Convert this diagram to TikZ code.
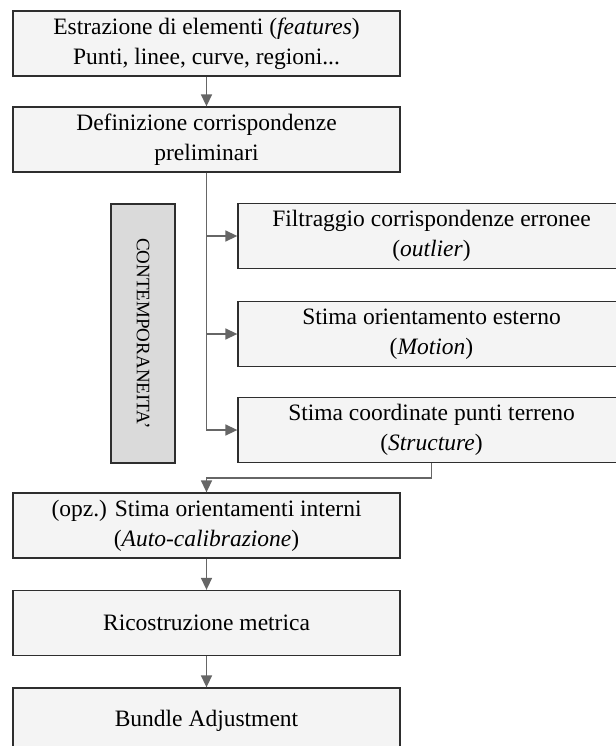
\documentclass[tikz,border=0pt]{standalone}
\usepackage{fontspec}
\setmainfont{Liberation Serif}
\usepackage{xcolor}
\usepackage{tikz}
\usetikzlibrary{arrows.meta}
\usetikzlibrary{calc}

\definecolor{boxfill}{HTML}{F4F4F4}
\definecolor{sidefill}{HTML}{DADADA}
\definecolor{boxline}{HTML}{2E2E2E}
\definecolor{arrowgray}{HTML}{666666}

\begin{document}
\begin{tikzpicture}[x=1pt, y=-1pt,
  step box/.style={draw=boxline, line width=1.3pt, fill=boxfill,
    minimum width=387pt, minimum height=65pt, align=center,
    inner sep=0pt, font=\fontsize{23.5}{30}\selectfont},
  side box/.style={draw=boxline, line width=1.3pt, fill=sidefill,
    minimum width=64pt, minimum height=259pt, inner sep=0pt},
  arr/.style={draw=arrowgray, line width=1.5pt,
    -{Triangle[length=12pt, width=11pt]}}]
  \useasboundingbox[fill=white] (0,0) rectangle (615,746);

  % Main column
  \node[step box] (estr)  at (206.5, 43.5)  {Estrazione di elementi (\textit{features})\\Punti, linee, curve, regioni...};
  \node[step box] (defi)  at (206.5, 139.5) {Definizione corrispondenze\\preliminari};

  % Side branch
  \node[step box] (filt)  at (431.5, 236)   {Filtraggio corrispondenze erronee\\(\textit{outlier})};
  \node[step box] (moti)  at (431.5, 334)   {Stima orientamento esterno\\(\textit{Motion})};
  \node[step box] (stru)  at (431.5, 430)   {Stima coordinate punti terreno\\(\textit{Structure})};
  \node[side box] (cont)  at (143, 333.5)   {};
  \node[rotate=-90, font=\fontsize{19}{22}\selectfont] (conttext) at (cont.center) {CONTEMPORANEITA'};

  % Lower column
  \node[step box] (calib) at (206.5, 525.5) {(opz.) Stima orientamenti interni\\(\textit{Auto-calibrazione})};
  \node[step box] (ricos) at (206.5, 623)   {Ricostruzione metrica};
  \node[step box] (bund)  at (206.5, 720.5) {Bundle Adjustment};

  % Connectors
  \draw[arr] (estr) -- (defi);
  \draw[arr] (defi.south) |- (filt.west);
  \draw[arr] (defi.south) |- (moti.west);
  \draw[arr] (defi.south) |- (stru.west);
  \draw[arr] (stru.south) -- ++(0,15) -| (calib.north);
  \draw[arr] (calib) -- (ricos);
  \draw[arr] (ricos) -- (bund);

\end{tikzpicture}
\end{document}
